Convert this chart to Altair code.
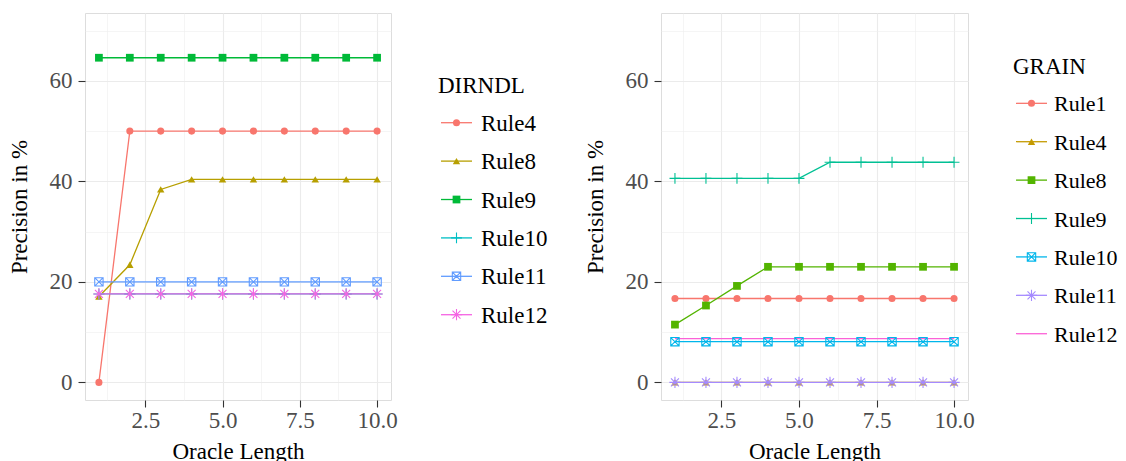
import altair as alt
import pandas as pd

X = [1, 2, 3, 4, 5, 6, 7, 8, 9, 10]

D_RULES = ["Rule4", "Rule8", "Rule9", "Rule10", "Rule11", "Rule12"]
D_COLORS = ["#F8766D", "#B79F00", "#00BA38", "#00BFC4", "#619CFF", "#F564E3"]
D_SHAPES = ["circle", "triangle", "square", "plus", "boxcross", "asterisk"]
D_RULE4 = [0.0, 50.0, 50.0, 50.0, 50.0, 50.0, 50.0, 50.0, 50.0, 50.0]
D_RULE8 = [17.1, 23.4, 38.4, 40.4, 40.4, 40.4, 40.4, 40.4, 40.4, 40.4]
D_RULE9 = [64.6, 64.6, 64.6, 64.6, 64.6, 64.6, 64.6, 64.6, 64.6, 64.6]
D_RULE10 = [17.6, 17.6, 17.6, 17.6, 17.6, 17.6, 17.6, 17.6, 17.6, 17.6]
D_RULE11 = [20.0, 20.0, 20.0, 20.0, 20.0, 20.0, 20.0, 20.0, 20.0, 20.0]
D_RULE12 = [17.6, 17.6, 17.6, 17.6, 17.6, 17.6, 17.6, 17.6, 17.6, 17.6]

G_RULES = ["Rule1", "Rule4", "Rule8", "Rule9", "Rule10", "Rule11", "Rule12"]
G_COLORS = ["#F8766D", "#C49A00", "#53B400", "#00C094", "#00B6EB", "#A58AFF", "#FB61D7"]
G_SHAPES = ["circle", "triangle", "square", "plus", "boxcross", "asterisk", "none"]
G_RULE1 = [16.7, 16.7, 16.7, 16.7, 16.7, 16.7, 16.7, 16.7, 16.7, 16.7]
G_RULE4 = [0.0, 0.0, 0.0, 0.0, 0.0, 0.0, 0.0, 0.0, 0.0, 0.0]
G_RULE8 = [11.5, 15.3, 19.2, 23.0, 23.0, 23.0, 23.0, 23.0, 23.0, 23.0]
G_RULE9 = [40.6, 40.6, 40.6, 40.6, 40.6, 43.8, 43.8, 43.8, 43.8, 43.8]
G_RULE10 = [8.1, 8.1, 8.1, 8.1, 8.1, 8.1, 8.1, 8.1, 8.1, 8.1]
G_RULE11 = [0.0, 0.0, 0.0, 0.0, 0.0, 0.0, 0.0, 0.0, 0.0, 0.0]
G_RULE12 = [8.7, 8.7, 8.7, 8.7, 8.7, 8.7, 8.7, 8.7, 8.7, 8.7]

X_TICKS = [2.5, 5.0, 7.5, 10.0]
X_MINOR = [1.25, 3.75, 6.25, 8.75]
Y_TICKS = [0, 20, 40, 60]
Y_MINOR = [10, 30, 50, 70]

SHAPE_KEYS = ["circle", "triangle", "square", "plus", "boxcross", "asterisk"]
SHAPE_PATHS = [
    "circle",
    "triangle-up",
    "square",
    "M-1.35,0H1.35M0,-1.35V1.35",
    "M-1,-1H1V1H-1ZM-1,-1L1,1M-1,1L1,-1",
    "M-1.3,0H1.3M0,-1.3V1.3M-0.92,-0.92L0.92,0.92M-0.92,0.92L0.92,-0.92",
]
SHAPE_SIZES = [50, 75, 62, 55, 55, 55]
FILLED = ["circle", "triangle", "square"]
OPEN = ["plus", "boxcross", "asterisk"]

FONT = "Liberation Serif"
FS = 23

shape_scale = alt.Scale(domain=SHAPE_KEYS, range=SHAPE_PATHS)
size_scale = alt.Scale(domain=SHAPE_KEYS, range=SHAPE_SIZES)


def panel(rules, colors, shapes, series, width):
    rows = []
    for r, s, vals in zip(rules, shapes, series):
        for x, v in zip(X, vals):
            rows.append({"x": x, "y": v, "rule": r, "shape": s})
    df = pd.DataFrame(rows)
    xs = alt.Scale(domain=[0.55, 10.45], nice=False, zero=False)
    ys = alt.Scale(domain=[-3.5, 73.5], nice=False, zero=False)
    color = alt.Color("rule:N", scale=alt.Scale(domain=rules, range=colors), legend=None)
    base = alt.Chart(df)

    minor = base.mark_point(opacity=0).encode(
        x=alt.X("x:Q", scale=xs, title=None,
                axis=alt.Axis(orient="top", values=X_MINOR, labels=False, ticks=False,
                              domain=False, grid=True, gridColor="#EFEFEF", gridWidth=0.6,
                              minExtent=0, maxExtent=0)),
        y=alt.Y("y:Q", scale=ys, title=None,
                axis=alt.Axis(orient="right", values=Y_MINOR, labels=False, ticks=False,
                              domain=False, grid=True, gridColor="#EFEFEF", gridWidth=0.6,
                              minExtent=0, maxExtent=0)),
    )
    lines = base.mark_line(strokeWidth=1.3).encode(
        x=alt.X("x:Q", scale=xs, title="Oracle Length",
                axis=alt.Axis(values=X_TICKS, format=".1f", domain=False, grid=True,
                              gridColor="#EBEBEB", gridWidth=1.1, tickSize=7,
                              tickColor="#333333", tickWidth=1.1, labelPadding=2,
                              labelColor="#4D4D4D", labelFont=FONT, labelFontSize=FS,
                              titleFont=FONT, titleFontSize=FS, titleFontWeight="normal",
                              titleColor="black", titlePadding=8, labelFlush=False)),
        y=alt.Y("y:Q", scale=ys, title="Precision in %",
                axis=alt.Axis(values=Y_TICKS, domain=False, grid=True,
                              gridColor="#EBEBEB", gridWidth=1.1, tickSize=7,
                              tickColor="#333333", tickWidth=1.1, labelPadding=6,
                              labelColor="#4D4D4D", labelFont=FONT, labelFontSize=FS,
                              titleFont=FONT, titleFontSize=FS, titleFontWeight="normal",
                              titleColor="black", titlePadding=18)),
        color=color,
        detail="rule:N",
    )
    filled = base.transform_filter(
        alt.FieldOneOfPredicate(field="shape", oneOf=FILLED)
    ).mark_point(filled=True, opacity=1).encode(
        x=alt.X("x:Q", scale=xs, axis=None),
        y=alt.Y("y:Q", scale=ys, axis=None),
        color=color,
        shape=alt.Shape("shape:N", scale=shape_scale, legend=None),
        size=alt.Size("shape:N", scale=size_scale, legend=None),
    )
    opened = base.transform_filter(
        alt.FieldOneOfPredicate(field="shape", oneOf=OPEN)
    ).mark_point(filled=False, opacity=1, strokeWidth=1.1).encode(
        x=alt.X("x:Q", scale=xs, axis=None),
        y=alt.Y("y:Q", scale=ys, axis=None),
        color=color,
        shape=alt.Shape("shape:N", scale=shape_scale, legend=None),
        size=alt.Size("shape:N", scale=size_scale, legend=None),
    )
    return alt.layer(minor, lines, filled, opened).resolve_axis(
        x="independent", y="independent"
    ).properties(width=width, height=387)


def legend(rules, colors, shapes, title, lo, width, x0, lab_off, lab_fs):
    ldf = pd.DataFrame({"rule": rules, "shape": shapes, "idx": list(range(len(rules)))})
    tdf = pd.DataFrame({"t": [title], "idx": [-0.95]})
    ysc = alt.Scale(domain=[lo, lo + 387 / 38.4], reverse=True, nice=False, zero=False)
    y = alt.Y("idx:Q", scale=ysc, axis=None)
    color = alt.Color("rule:N", scale=alt.Scale(domain=rules, range=colors), legend=None)
    b = alt.Chart(ldf)
    seg = b.mark_rule(strokeWidth=1.3).encode(
        x=alt.value(x0), x2=alt.value(x0 + 31), y=y, color=color)
    pf = b.transform_filter(alt.FieldOneOfPredicate(field="shape", oneOf=FILLED)).mark_point(
        filled=True, opacity=1).encode(
        x=alt.value(x0 + 15.5), y=y, color=color,
        shape=alt.Shape("shape:N", scale=shape_scale, legend=None),
        size=alt.Size("shape:N", scale=size_scale, legend=None))
    po = b.transform_filter(alt.FieldOneOfPredicate(field="shape", oneOf=OPEN)).mark_point(
        filled=False, opacity=1, strokeWidth=1.1).encode(
        x=alt.value(x0 + 15.5), y=y, color=color,
        shape=alt.Shape("shape:N", scale=shape_scale, legend=None),
        size=alt.Size("shape:N", scale=size_scale, legend=None))
    txt = b.mark_text(align="left", baseline="middle", font=FONT, fontSize=lab_fs,
                      color="black", dy=1).encode(x=alt.value(x0 + lab_off), y=y, text="rule:N")
    ttl = alt.Chart(tdf).mark_text(align="left", baseline="middle", font=FONT, fontSize=FS,
                                   color="black").encode(
        x=alt.value(x0 - 3), y=alt.Y("idx:Q", scale=ysc, axis=None), text="t:N")
    return alt.layer(seg, pf, po, txt, ttl).properties(
        width=width, height=387, view=alt.ViewBackground(stroke="transparent"))


left = panel(D_RULES, D_COLORS, D_SHAPES,
             [D_RULE4, D_RULE8, D_RULE9, D_RULE10, D_RULE11, D_RULE12], 306)
leg1 = legend(D_RULES, D_COLORS, D_SHAPES, "DIRNDL", -2.857, 183, 42, 40, FS)
right = panel(G_RULES, G_COLORS, G_SHAPES,
              [G_RULE1, G_RULE4, G_RULE8, G_RULE9, G_RULE10, G_RULE11, G_RULE12], 307)
leg2 = legend(G_RULES, G_COLORS, G_SHAPES, "GRAIN", -2.352, 130, 40, 38, 22)

chart = alt.hconcat(left, leg1, right, leg2, spacing=0).resolve_scale(
    color="independent", shape="independent", size="independent"
).properties(
    autosize=alt.AutoSizeParams(type="none"),
    padding={"left": 77, "top": 5, "right": 1033, "bottom": 440}
).configure_view(stroke="#333333", strokeWidth=1.1).configure(background="white")

chart.save("out.html", embed_options={"renderer": "svg", "actions": False})
